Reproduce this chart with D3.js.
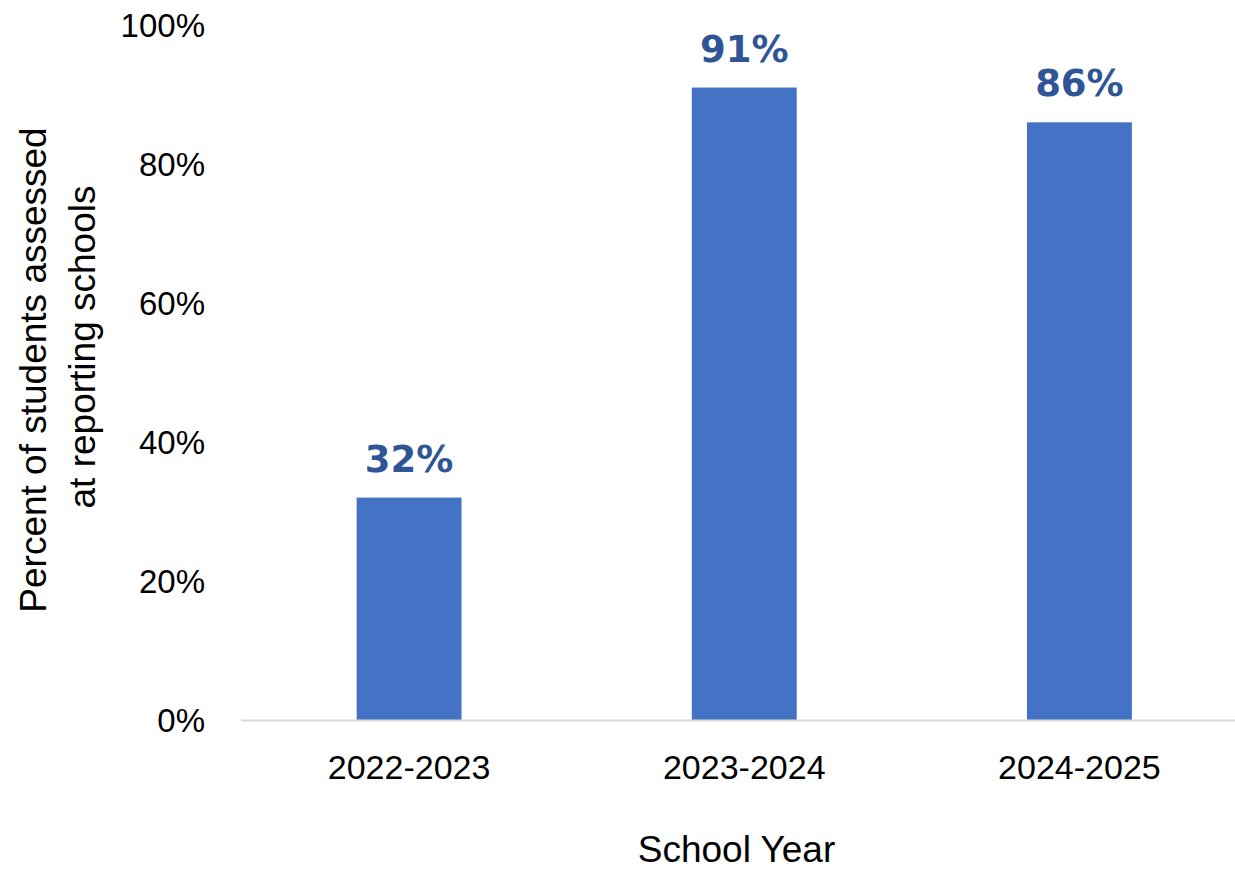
<!DOCTYPE html>
<html>
<head>
<meta charset="utf-8">
<script src="https://cdn.jsdelivr.net/npm/d3@7"></script>
<style>
  html, body { margin: 0; padding: 0; background: #fff; }
  svg { display: block; font-family: "Liberation Sans", Arial, sans-serif; }
</style>
</head>
<body>
<svg id="chart" width="1235" height="870"></svg>
<script>
const categories = ["2022-2023", "2023-2024", "2024-2025"];
const values = [0.32, 0.91, 0.86];
const yTicks = [0, 0.2, 0.4, 0.6, 0.8, 1.0];
const yTitleLines = ["Percent of students assessed", "at reporting schools"];
const xTitle = "School Year";

const svg = d3.select("#chart");
const x = d3.scaleBand().domain(categories).range([241.5, 1247]).paddingInner(0.687).paddingOuter(0.3435);
const y = d3.scaleLinear().domain([0, 1]).range([720, 25]);
const fmt = d3.format(".0%");

// y axis labels
const yAxis = d3.axisLeft(y).tickValues(yTicks).tickFormat(fmt).tickSize(0).tickPadding(0);
const yg = svg.append("g").attr("transform", "translate(205,0)").call(yAxis);
yg.select(".domain").remove();
yg.selectAll("text").attr("font-size", 33).attr("fill", "#000").attr("font-family", "Liberation Sans, Arial, sans-serif").attr("dy", "0.35em");

// bars
svg.append("g").selectAll("rect").data(values).join("rect")
  .attr("x", (d, i) => x(categories[i]))
  .attr("width", x.bandwidth())
  .attr("y", d => y(d))
  .attr("height", d => y(0) - y(d))
  .attr("fill", "#4472C4");

// baseline
svg.append("line").attr("x1", 241).attr("x2", 1235).attr("y1", y(0) + 0.5).attr("y2", y(0) + 0.5)
  .attr("stroke", "#d9d9d9").attr("stroke-width", 2);

// x axis labels
const xAxis = d3.axisBottom(x).tickSize(0).tickPadding(0);
const xg = svg.append("g").attr("transform", "translate(0,767)").call(xAxis);
xg.select(".domain").remove();
xg.selectAll("text").attr("font-size", 34).attr("fill", "#000").attr("font-family", "Liberation Sans, Arial, sans-serif").attr("dy", "0.35em");

// data labels
svg.append("g").selectAll("text").data(values).join("text")
  .attr("x", (d, i) => x(categories[i]) + x.bandwidth() / 2)
  .attr("y", d => y(d) - 26)
  .attr("text-anchor", "middle")
  .attr("font-family", "DejaVu Sans, Liberation Sans, sans-serif")
  .attr("font-size", 37).attr("font-weight", "bold").attr("fill", "#2F5597")
  .text(d => fmt(d));

// y title
const yt = svg.append("text").attr("transform", "rotate(-90)").attr("font-size", 37).attr("fill", "#000").attr("text-anchor", "middle");
yt.append("tspan").attr("x", -370).attr("y", 46).text(yTitleLines[0]);
yt.append("tspan").attr("x", -347).attr("y", 95).text(yTitleLines[1]);

// x title
svg.append("text").attr("x", 736.5).attr("y", 862).attr("text-anchor", "middle").attr("font-size", 37).attr("fill", "#000").text(xTitle);
</script>
</body>
</html>
